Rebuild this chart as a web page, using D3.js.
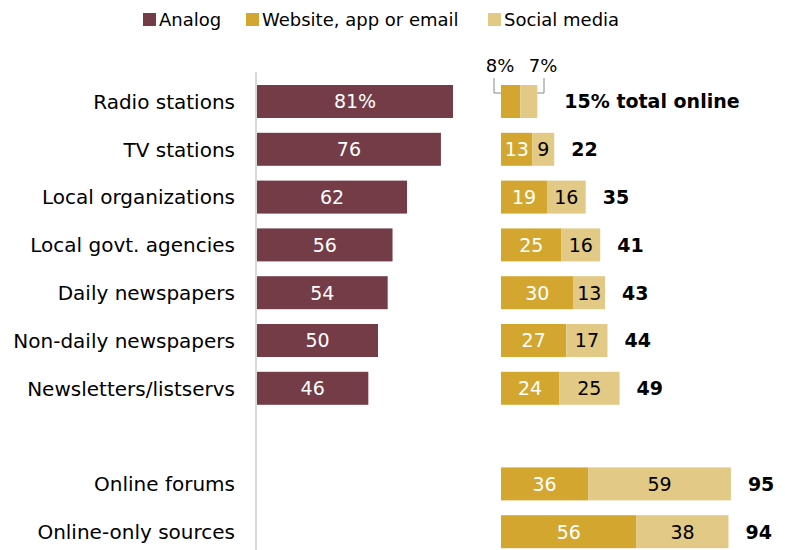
<!DOCTYPE html>
<html>
<head>
<meta charset="utf-8">
<script src="https://cdn.jsdelivr.net/npm/d3@7"></script>
<style>
  html, body { margin: 0; padding: 0; background: #fff; }
  svg text { font-family: "DejaVu Sans", "Liberation Sans", Arial, sans-serif; }
</style>
</head>
<body>
<svg id="chart" width="785" height="550"></svg>
<script>
// Sources of local news, by format
const categories = [
  "Radio stations", "TV stations", "Local organizations", "Local govt. agencies",
  "Daily newspapers", "Non-daily newspapers", "Newsletters/listservs",
  "", "Online forums", "Online-only sources"
];
const analog   = [81, 76, 62, 56, 54, 50, 46, null, null, null];
const website  = [8, 13, 19, 25, 30, 27, 24, null, 36, 56];
const social   = [7, 9, 16, 16, 13, 17, 25, null, 59, 38];
const totals   = [15, 22, 35, 41, 43, 44, 49, null, 95, 94];
const seriesNames = ["Analog", "Website, app or email", "Social media"];
const colors = ["#733c47", "#d3a72f", "#e2c986"];

const svg = d3.select("#chart");

const y = d3.scaleBand()
  .domain(d3.range(categories.length))
  .range([77.6, 555.6])
  .paddingInner(0.31)
  .paddingOuter(0.155);

const x = d3.scaleLinear().domain([0, 100]).range([0, 242]);
const analogX0 = 257;
const onlineX0 = 501;

// Category labels
svg.append("g").selectAll("text")
  .data(categories)
  .join("text")
  .attr("x", 235)
  .attr("y", (d, i) => y(i) + y.bandwidth() / 2)
  .attr("dy", "0.36em")
  .attr("text-anchor", "end")
  .attr("font-size", 20)
  .attr("fill", "#000")
  .text(d => d);

// Baseline for analog bars
svg.append("line")
  .attr("x1", 256).attr("x2", 256)
  .attr("y1", 72).attr("y2", 550)
  .attr("stroke", "#d9d9d9").attr("stroke-width", 2);

// Analog bars
const aData = analog.map((v, i) => ({ v, i })).filter(d => d.v != null);
svg.append("g").selectAll("rect")
  .data(aData)
  .join("rect")
  .attr("x", analogX0)
  .attr("y", d => y(d.i))
  .attr("width", d => x(d.v))
  .attr("height", y.bandwidth())
  .attr("fill", colors[0]);

svg.append("g").selectAll("text")
  .data(aData)
  .join("text")
  .attr("x", d => analogX0 + x(d.v) / 2)
  .attr("y", d => y(d.i) + y.bandwidth() / 2)
  .attr("dy", "0.36em")
  .attr("text-anchor", "middle")
  .attr("font-size", 19)
  .attr("fill", "#fff")
  .text(d => d.i === 0 ? d.v + "%" : d.v);

// Online stacked bars
const oData = website.map((w, i) => ({ w, s: social[i], t: totals[i], i })).filter(d => d.w != null);

const gO = svg.append("g");
gO.selectAll("rect.web")
  .data(oData)
  .join("rect")
  .attr("class", "web")
  .attr("x", onlineX0)
  .attr("y", d => y(d.i))
  .attr("width", d => x(d.w))
  .attr("height", y.bandwidth())
  .attr("fill", colors[1]);

gO.selectAll("rect.soc")
  .data(oData)
  .join("rect")
  .attr("class", "soc")
  .attr("x", d => onlineX0 + x(d.w))
  .attr("y", d => y(d.i))
  .attr("width", d => x(d.s))
  .attr("height", y.bandwidth())
  .attr("fill", colors[2]);

// Segment value labels (first row is labelled above the bar)
const inner = oData.filter(d => d.i !== 0);
gO.selectAll("text.webl")
  .data(inner)
  .join("text")
  .attr("class", "webl")
  .attr("x", d => onlineX0 + x(d.w) / 2)
  .attr("y", d => y(d.i) + y.bandwidth() / 2)
  .attr("dy", "0.36em")
  .attr("text-anchor", "middle")
  .attr("font-size", 19)
  .attr("fill", "#fff")
  .text(d => d.w);

gO.selectAll("text.socl")
  .data(inner)
  .join("text")
  .attr("class", "socl")
  .attr("x", d => onlineX0 + x(d.w) + x(d.s) / 2)
  .attr("y", d => y(d.i) + y.bandwidth() / 2)
  .attr("dy", "0.36em")
  .attr("text-anchor", "middle")
  .attr("font-size", 19)
  .attr("fill", "#000")
  .text(d => d.s);

// Totals
gO.selectAll("text.tot")
  .data(oData)
  .join("text")
  .attr("class", "tot")
  .attr("x", d => onlineX0 + x(d.t) + (d.i === 0 ? 27 : 17))
  .attr("y", d => y(d.i) + y.bandwidth() / 2)
  .attr("dy", "0.36em")
  .attr("font-size", 19)
  .attr("font-weight", "bold")
  .attr("fill", "#000")
  .text(d => d.i === 0 ? d.t + "% total online" : d.t);

// Callouts for the first row's segments
const r0 = oData[0];
const top0 = y(0);
const webEnd = onlineX0 + x(r0.w);
const socEnd = webEnd + x(r0.s);
const bracket = svg.append("g").attr("fill", "none").attr("stroke", "#888").attr("stroke-width", 1);
bracket.append("polyline")
  .attr("points", [[494, top0 - 7], [494, top0 + 8], [onlineX0, top0 + 8]].map(p => p.join(",")).join(" "));
bracket.append("polyline")
  .attr("points", [[544, top0 - 7], [544, top0 + 8], [socEnd, top0 + 8]].map(p => p.join(",")).join(" "));
svg.append("text")
  .attr("x", 500).attr("y", top0 - 13)
  .attr("text-anchor", "middle").attr("font-size", 18).attr("fill", "#000")
  .text(r0.w + "%");
svg.append("text")
  .attr("x", 543).attr("y", top0 - 13)
  .attr("text-anchor", "middle").attr("font-size", 18).attr("fill", "#000")
  .text(r0.s + "%");

// Legend
const legendX = [143, 246, 488];
const lg = svg.append("g").selectAll("g")
  .data(seriesNames)
  .join("g")
  .attr("transform", (d, i) => `translate(${legendX[i]},13)`);
lg.append("rect").attr("width", 13).attr("height", 13).attr("fill", (d, i) => colors[i]);
lg.append("text")
  .attr("x", 16).attr("y", 6.5).attr("dy", "0.36em")
  .attr("font-size", 18).attr("fill", "#000")
  .text(d => d);
</script>
</body>
</html>
